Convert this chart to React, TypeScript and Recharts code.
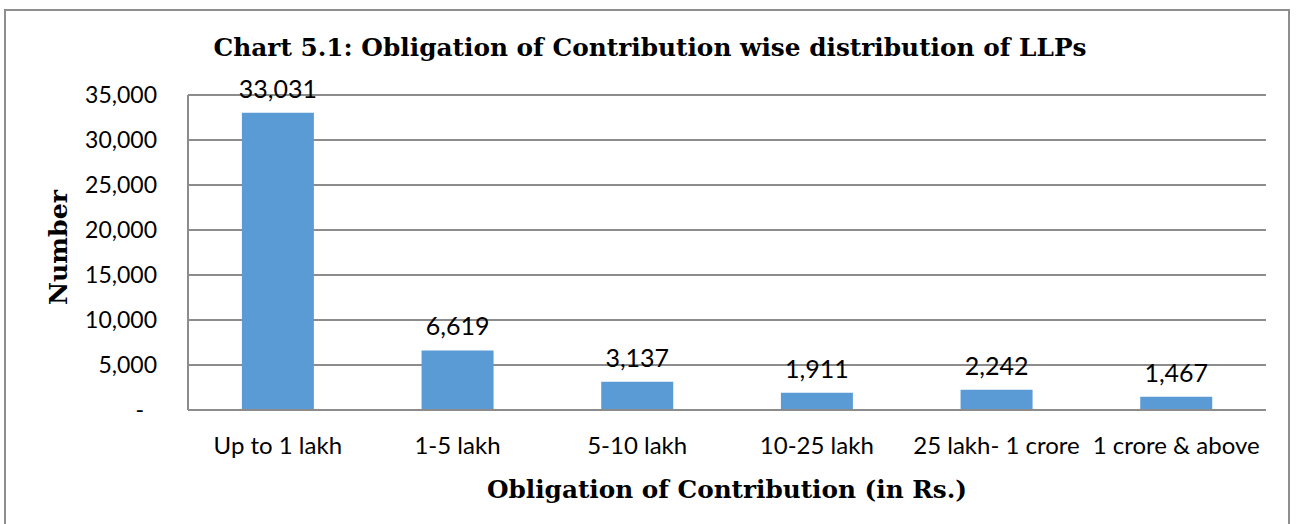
import React from 'react';
import { BarChart, Bar, XAxis, YAxis, CartesianGrid, LabelList, Label } from 'recharts';

const categories = ['Up to 1 lakh', '1-5 lakh', '5-10 lakh', '10-25 lakh', '25 lakh- 1 crore', '1 crore & above'];
const values = [33031, 6619, 3137, 1911, 2242, 1467];
const yTicks = [0, 5000, 10000, 15000, 20000, 25000, 30000, 35000];

const data = categories.map((c, i) => ({ name: c, value: values[i] }));

const fmt = (v: number) => v.toLocaleString('en-US');
const SANS = 'Lato, "Open Sans", sans-serif';
const SERIF = '"DejaVu Serif", serif';

const YTick = (props: any) => {
  const { x, y, payload } = props;
  const v = payload.value as number;
  return (
    <text x={v === 0 ? x - 13 : x} y={y} dy="0.355em" textAnchor="end" fontFamily={SANS} fontSize={23} fill="#000">
      {v === 0 ? '-' : fmt(v)}
    </text>
  );
};

const XTitle = (props: any) => {
  const vb = props.viewBox || {};
  return (
    <text x={vb.x + vb.width / 2} y={vb.y + vb.height - 2} textAnchor="middle" fontFamily={SERIF} fontWeight="bold" fontSize={24} textLength={480} lengthAdjust="spacingAndGlyphs" fill="#000">
      Obligation of Contribution (in Rs.)
    </text>
  );
};

const YTitle = (props: any) => {
  const vb = props.viewBox || {};
  const cx = vb.x + 18;
  const cy = vb.y + vb.height / 2 - 5;
  return (
    <text x={cx} y={cy} dy="0.36em" textAnchor="middle" transform={`rotate(-90 ${cx} ${cy})`} fontFamily={SERIF} fontWeight="bold" fontSize={25} textLength={115} lengthAdjust="spacingAndGlyphs" fill="#000">
      Number
    </text>
  );
};

export default function App() {
  return (
    <div style={{ position: 'absolute', left: 0, top: 0, width: 1300, height: 524, overflow: 'hidden', background: '#fff' }}>
      <div style={{ position: 'absolute', left: 4, top: 9, width: 1286, height: 600, border: '2px solid #8e8e8e', boxSizing: 'border-box' }} />
      <svg width={1300} height={524} style={{ position: 'absolute', left: 0, top: 0 }}>
        <text x={650} y={56} textAnchor="middle" fontFamily={SERIF} fontWeight="bold" fontSize={25} textLength={873} lengthAdjust="spacingAndGlyphs" fill="#000">
          Chart 5.1: Obligation of Contribution wise distribution of LLPs
        </text>
      </svg>
      <div style={{ position: 'absolute', left: 0, top: 0 }}>
        <BarChart width={1300} height={524} data={data} margin={{ top: 95, right: 34, bottom: 24, left: 40 }} barCategoryGap="30%">
          <CartesianGrid vertical={false} stroke="#8c8c8c" strokeWidth={2} />
          <XAxis dataKey="name" interval={0} height={90} tickLine={false} tickSize={0} tickMargin={27} axisLine={{ stroke: '#8c8c8c', strokeWidth: 2 }} tick={{ fontFamily: SANS, fontSize: 24, fill: '#000' }}>
            <Label content={<XTitle />} />
          </XAxis>
          <YAxis width={148} domain={[0, 35000]} ticks={yTicks} interval={0} tickLine={false} tickSize={0} tickMargin={31} axisLine={{ stroke: '#8c8c8c', strokeWidth: 2 }} tick={<YTick />}>
            <Label content={<YTitle />} />
          </YAxis>
          <Bar dataKey="value" fill="#5b9bd5" isAnimationActive={false}>
            <LabelList dataKey="value" position="top" offset={15} formatter={(v: any) => fmt(Number(v))} style={{ fontFamily: SANS, fontSize: 25, fill: '#000' }} />
          </Bar>
        </BarChart>
      </div>
    </div>
  );
}
